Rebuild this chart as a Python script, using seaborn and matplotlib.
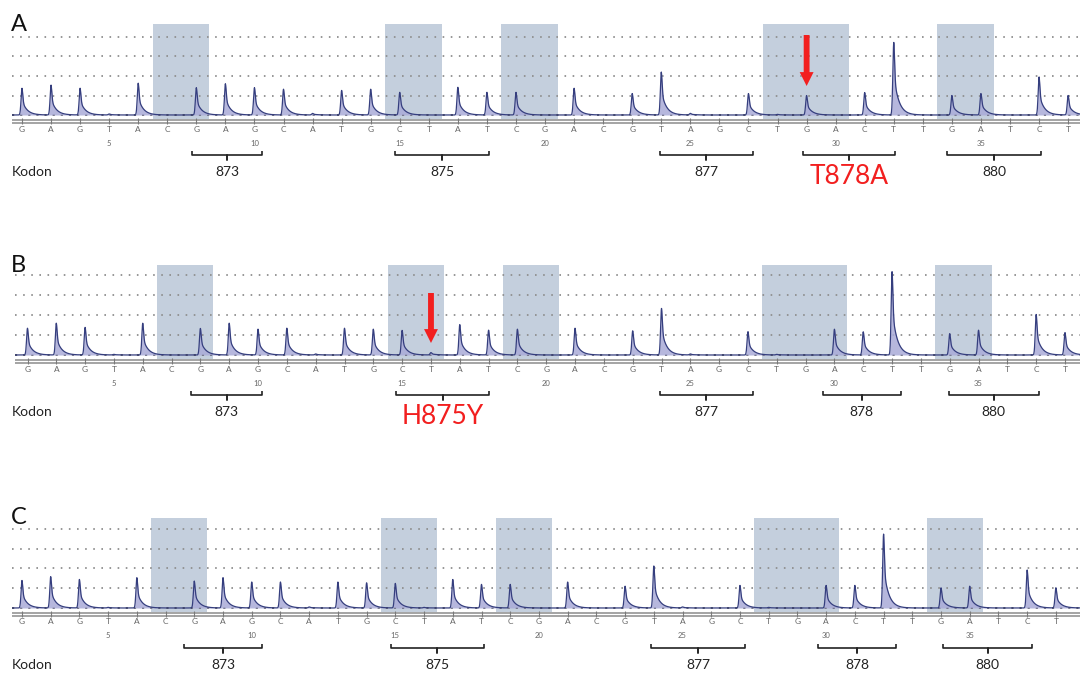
import numpy as np
import pandas as pd
import matplotlib
matplotlib.use("Agg")
import matplotlib.pyplot as plt
from matplotlib.patches import Rectangle
import seaborn as sns

# ---------------- data ----------------
bases = list("GAGTACGAGCATGCTATCGACGTAGCTGACTTGATCT")
base_pos = list(range(2, 39))

# peak heights in grid units (one value per base)
heights_A = [1.37, 1.53, 1.37, 0.05, 1.63, 0.0, 1.40, 1.60, 1.40, 1.32,
             0.08, 1.26, 1.32, 1.16, 0.0, 1.42, 1.16, 1.16, 0.0, 1.37,
             0.0, 1.10, 2.20, 0.08, 0.0, 1.10, 0.03, 1.00, 0.0, 1.15,
             3.72, 0.0, 1.00, 1.10, 0.0, 1.95, 1.00]
heights_B = [1.34, 1.59, 1.38, 0.03, 1.59, 0.0, 1.33, 1.59, 1.29, 1.34,
             0.05, 1.34, 1.29, 1.23, 0.12, 1.52, 1.24, 1.29, 0.0, 1.34,
             0.0, 1.21, 2.33, 0.05, 0.0, 1.17, 0.03, 0.0, 1.29, 1.16,
             4.17, 0.0, 1.07, 1.24, 0.0, 2.03, 1.12]
heights_C = [1.39, 1.58, 1.44, 0.03, 1.53, 0.0, 1.36, 1.53, 1.31, 1.31,
             0.05, 1.31, 1.27, 1.24, 0.03, 1.44, 1.19, 1.19, 0.0, 1.31,
             0.0, 1.10, 2.12, 0.05, 0.0, 1.14, 0.03, 0.0, 1.14, 1.14,
             3.73, 0.0, 1.02, 1.10, 0.0, 1.92, 1.02]

number_ticks = [5, 10, 15, 20, 25, 30, 35]

shade_start = [6.5, 14.5, 18.5, 27.5, 33.5]
shade_end = [8.45, 16.45, 20.45, 30.45, 35.45]

codon_start_A = [7.85, 14.84, 23.95, 28.88, 33.83]
codon_end_A = [10.26, 18.07, 27.15, 32.04, 37.07]
codon_labels_A = ["873", "875", "877", "T878A", "880"]

codon_start_B = [7.67, 14.79, 23.95, 29.60, 33.97]
codon_end_B = [10.14, 18.01, 27.17, 32.30, 37.09]
codon_labels_B = ["873", "H875Y", "877", "878", "880"]

codon_start_C = [7.64, 14.84, 23.90, 29.72, 34.07]
codon_end_C = [10.35, 18.08, 27.17, 32.43, 37.17]
codon_labels_C = ["873", "875", "877", "878", "880"]

mutations = ["T878A", "H875Y"]
arrow_pos_A = 29
arrow_pos_B = 16
panel_names = ["A", "B", "C"]
row_label = "Kodon"

# ---------------- style ----------------
sns.set_theme(style="white")
plt.rcParams["font.family"] = ["Lato", "DejaVu Sans"]

W, H = 1080, 675
fig = plt.figure(figsize=(10.8, 6.75), dpi=100)
fig.patch.set_facecolor("white")

SHADE = "#c4cfdd"
NAVY = "#353e7e"
LAV = "#a9abd8"
RED = "#f21f1f"
GRIDC = "#8f8f8f"


def trace(xs, pos, h, g):
    y = np.zeros_like(xs)
    for p, hh in zip(pos, h):
        if hh <= 0:
            continue
        d = xs - p
        left = np.exp(-(d / 0.045) ** 2)
        dp = np.clip(d, 0, None)
        right = 0.45 * np.exp(-(dp / 0.04) ** 2) + 0.55 * np.exp(-dp / 0.17)
        y += hh * g * np.where(d < 0, left, right)
    return y


# layout in pixels: x0, pixel of base pos 2, base spacing, baseline, grid step, top, bottom
layouts = {
    "A": dict(x0=12, px2=22.0, sp=29.06, yb=115, g=19.5, yt=14, ybot=192),
    "B": dict(x0=15, px2=27.5, sp=28.82, yb=355, g=20.0, yt=255, ybot=432),
    "C": dict(x0=12, px2=22.0, sp=28.72, yb=608, g=19.8, yt=508, ybot=675),
}

panels = [
    ("A", heights_A, codon_start_A, codon_end_A, codon_labels_A, arrow_pos_A, (80, 29)),
    ("B", heights_B, codon_start_B, codon_end_B, codon_labels_B, arrow_pos_B, (62, 12)),
    ("C", heights_C, codon_start_C, codon_end_C, codon_labels_C, None, None),
]

for name, hts, cs, ce, cl, apos, aext in panels:
    L = layouts[name]
    ax = fig.add_axes([L["x0"] / W, 1 - L["ybot"] / H, (W - L["x0"]) / W, (L["ybot"] - L["yt"]) / H])
    ax.set_axis_off()
    pl = 2 + (L["x0"] - L["px2"]) / L["sp"]
    pr = 2 + (W - L["px2"]) / L["sp"]
    ax.set_xlim(pl, pr)
    ax.set_ylim(-(L["ybot"] - L["yb"]), L["yb"] - L["yt"])
    g = L["g"]

    # shaded codon boxes
    for s, e in zip(shade_start, shade_end):
        ax.add_patch(Rectangle((s, -4), e - s, 90.5 + 4, facecolor=SHADE, edgecolor="none", zorder=1))

    # dotted grid lines
    for k in range(1, 5):
        ax.axhline(k * g, color=GRIDC, lw=1.3, dashes=(0.9, 3.6), zorder=2)
    ax.axhline(0, color="#4a4a4a", lw=1.3, dashes=(1.2, 3.3), zorder=2)

    # axis double line and base ticks
    ax.axhline(-4.5, color="#8c8c8c", lw=1.1, zorder=2)
    ax.axhline(-7.5, color="#8c8c8c", lw=1.1, zorder=2)
    ax.vlines(base_pos, -9, -3, color="#7a7a7a", lw=0.8, zorder=2)

    # chromatogram trace
    xs = np.arange(pl, pr, 0.004)
    ys = trace(xs, base_pos, hts, g)
    ax.fill_between(xs, 0, ys, color=LAV, alpha=0.85, lw=0, zorder=3)
    df = pd.DataFrame({"pos": xs, "signal": ys})
    sns.lineplot(data=df, x="pos", y="signal", ax=ax, color=NAVY, lw=0.9,
                 estimator=None, sort=False, zorder=4)
    ax.set_axis_off()

    # base letters and numbers
    for p, b in zip(base_pos, bases):
        ax.text(p, -14, b, ha="center", va="center", fontsize=6, color="#666666")
    for n in number_ticks:
        ax.text(n, -28, str(n), ha="center", va="center", fontsize=5.5, color="#666666")

    # codon brackets
    for s, e, lab in zip(cs, ce, cl):
        m = (s + e) / 2
        ax.plot([s, s, e, e], [-36, -40, -40, -36], color="#222222", lw=1.2, solid_capstyle="butt")
        ax.plot([m, m], [-40, -44.5], color="#222222", lw=1.4)
        if lab in mutations:
            ax.text(m, -62, lab, ha="center", va="center", fontsize=19, color=RED)
        else:
            ax.text(m, -57, lab, ha="center", va="center", fontsize=10, color="#222222")

    # red arrow
    if apos is not None:
        top, tip = aext
        ax.annotate("", xy=(apos, tip), xytext=(apos, top),
                    arrowprops=dict(arrowstyle="simple,head_length=1.0,head_width=1.0,tail_width=0.42",
                                    color=RED, mutation_scale=10, shrinkA=0, shrinkB=0, lw=0),
                    zorder=6)

    # row label
    fig.text(12 / W, 1 - (L["yb"] + 57) / H, row_label, ha="left", va="center", fontsize=10, color="#222222")

label_baselines = {"A": 31, "B": 272, "C": 524}
for nm in panel_names:
    fig.text(11 / W, 1 - label_baselines[nm] / H, nm, ha="left", va="baseline", fontsize=17, color="#111111")

fig.savefig("out.png", dpi=100, facecolor="white")
